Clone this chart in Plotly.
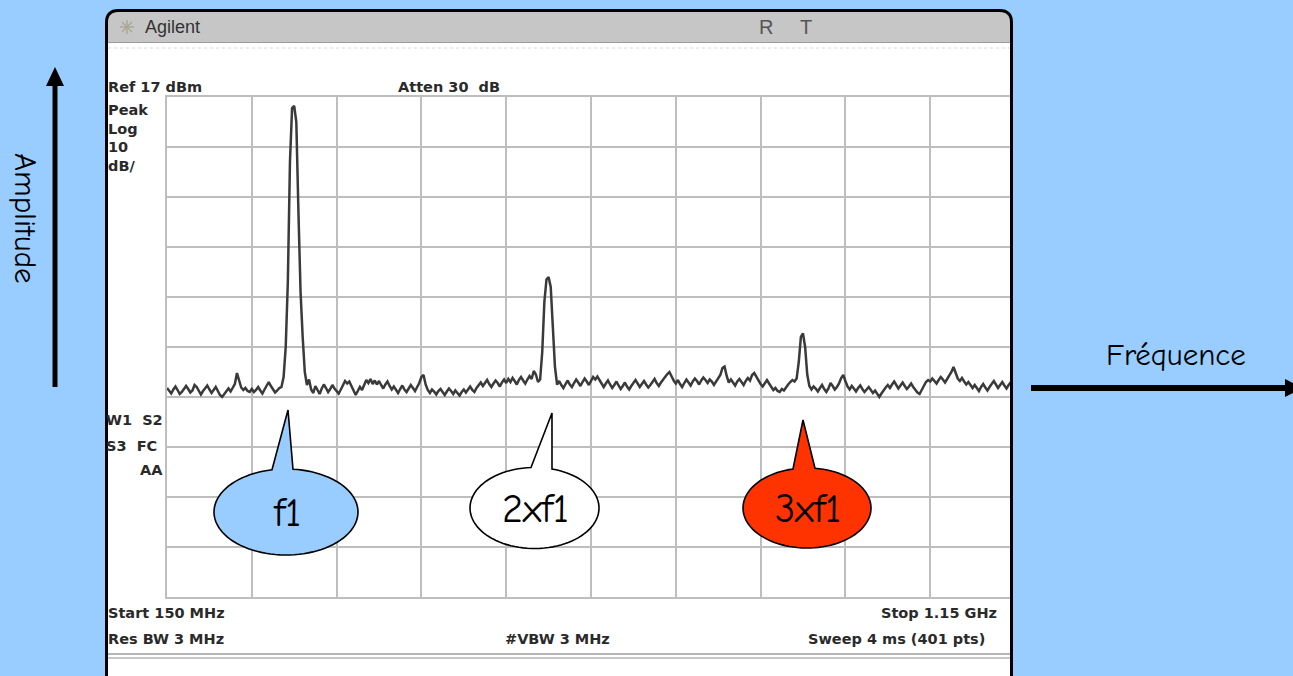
import math
import numpy as np
import plotly.graph_objects as go

W, H = 1293, 676

# Sweep settings shown on the analyzer screen
START_MHZ = 150.0
STOP_MHZ = 1150.0
N_PTS = 401
REF_DBM = 17
DB_PER_DIV = 10

# Trace levels (dBm), one per sweep point, 2.5 MHz apart
level_dbm = [
    -41.2, -41.8, -42.3, -41.5, -40.9, -41.6, -42.4, -42.0, -41.3, -40.8, -41.4, -42.1, -41.7, -40.6, -41.0, -41.9, -42.5, -41.8, -41.2, -40.7,
    -41.5, -42.2, -41.6, -41.0, -41.8, -42.6, -43.0, -42.4, -41.7, -41.3, -41.9, -41.2, -40.4, -38.2, -39.6, -41.1, -41.6, -41.2, -41.8, -42.0,
    -41.4, -42.0, -41.6, -41.0, -41.7, -42.3, -41.5, -40.6, -40.0, -40.8, -41.6, -42.1, -41.7, -41.2, -41.0, -39.0, -33.0, -20.0, 4.0, 14.8,
    15.2, 12.0, -6.0, -22.0, -31.0, -38.0, -40.6, -39.5, -41.5, -42.2, -40.8, -41.6, -42.4, -41.3, -40.5, -41.2, -42.0, -41.4, -40.6, -41.3,
    -41.8, -42.3, -41.5, -40.7, -39.8, -40.3, -39.9, -40.8, -41.9, -42.6, -41.8, -41.0, -41.6, -40.5, -39.6, -40.2, -39.4, -40.4, -39.7, -40.5,
    -39.8, -40.6, -41.3, -40.5, -39.9, -40.8, -41.5, -40.9, -41.6, -42.2, -41.4, -40.7, -41.5, -42.0, -41.3, -40.6, -41.2, -41.8, -41.0, -40.2,
    -39.0, -38.6, -40.5, -41.6, -42.2, -41.5, -41.9, -42.5, -41.8, -41.4, -42.0, -42.6, -41.9, -41.3, -41.8, -42.4, -41.7, -42.3, -42.7, -42.0,
    -41.5, -42.1, -41.4, -40.9, -41.6, -42.0, -41.2, -40.6, -40.1, -40.8, -40.2, -39.6, -40.4, -41.0, -40.3, -39.7, -40.2, -40.9, -40.1, -39.5,
    -40.2, -39.4, -40.0, -39.2, -39.8, -40.5, -39.6, -39.0, -39.7, -40.3, -39.5, -38.8, -39.4, -37.8, -38.5, -40.0, -39.5, -34.0, -24.0, -19.5,
    -19.0, -21.0, -29.0, -37.0, -40.5, -39.8, -40.6, -41.2, -40.4, -39.7, -40.5, -41.0, -40.2, -39.5, -40.1, -40.8, -40.0, -39.3, -39.9, -40.6,
    -39.8, -39.0, -39.5, -38.9, -39.6, -40.4, -41.0, -40.3, -39.7, -40.5, -41.2, -40.6, -39.9, -40.7, -41.4, -40.8, -40.1, -40.9, -41.5, -40.8,
    -40.2, -39.6, -40.3, -41.0, -40.4, -39.8, -40.5, -41.1, -40.6, -39.9, -39.4, -40.2, -40.8, -40.1, -39.5, -39.0, -38.4, -38.0, -38.9, -39.7,
    -40.3, -39.6, -40.4, -41.0, -40.2, -39.5, -40.1, -40.7, -39.9, -39.3, -39.8, -40.5, -39.7, -39.1, -39.6, -40.2, -39.5, -39.9, -40.6, -40.0,
    -39.4, -38.6, -37.2, -36.9, -38.8, -40.1, -39.5, -40.2, -40.7, -39.9, -39.4, -40.0, -40.6, -39.8, -39.2, -39.7, -38.6, -38.2, -38.9, -39.8,
    -40.4, -40.9, -40.2, -39.6, -40.3, -41.0, -41.6, -41.2, -41.8, -42.0, -41.4, -41.7, -41.0, -40.5, -40.0, -39.6, -39.9, -39.3, -36.0, -31.0,
    -30.3, -33.0, -38.5, -40.8, -41.5, -40.9, -41.3, -41.9, -41.2, -40.6, -41.4, -42.0, -41.3, -40.2, -40.8, -41.5, -41.0, -40.3, -39.2, -38.6,
    -39.8, -40.9, -41.5, -40.8, -41.3, -41.9, -41.2, -40.7, -41.4, -42.0, -41.5, -41.0, -41.6, -42.2, -41.7, -42.4, -43.0, -42.3, -41.6, -41.1,
    -40.6, -41.2, -40.5, -39.9, -40.6, -41.3, -40.7, -40.1, -40.8, -41.4, -40.9, -40.3, -41.0, -41.6, -42.1, -42.4, -41.5, -40.6, -40.0, -39.6,
    -39.9, -39.3, -39.8, -40.3, -39.6, -39.0, -39.5, -40.1, -39.4, -38.8, -38.0, -37.0, -38.2, -39.3, -39.8, -39.2, -39.9, -40.5, -40.0, -40.7,
    -41.2, -40.6, -41.3, -41.8, -41.0, -40.4, -41.1, -41.7, -41.0, -40.3, -39.8, -40.5, -41.2, -40.6, -40.0, -40.7, -41.3, -40.6, -40.1, -40.8,
    -40.4,
]
assert len(level_dbm) == N_PTS

freq_mhz = np.linspace(START_MHZ, STOP_MHZ, N_PTS)

# Screen annotation texts
header_left = "Ref 17 dBm"
header_mid = "Atten 30\u00a0 dB"
side_labels = ["Peak", "Log", "10", "dB/"]
status_labels = ["W1\u00a0 S2", "S3\u00a0 FC"]
status_right = "AA"
footer_start = "Start 150 MHz"
footer_stop = "Stop 1.15 GHz"
footer_rbw = "Res BW 3 MHz"
footer_vbw = "#VBW 3 MHz"
footer_sweep = "Sweep 4 ms (401 pts)"

# Harmonic callouts
bubble_labels = ["f1", "2xf1", "3xf1"]
bubble_fills = ["#99CCFF", "#FFFFFF", "#FF3300"]

axis_labels = ["Amplitude", "Fréquence"]


def px(x):
    return x / W


def py(y):
    return 1 - y / H


def pt(x, y):
    return f"{px(x):.5f},{py(y):.5f}"


def path_from(points, close=True):
    s = "M " + " L ".join(pt(x, y) for x, y in points)
    return s + (" Z" if close else "")


def rounded_top(xl, xr, yt, yb, r, close=True):
    # open-bottom outline with rounded upper corners
    s = (f"M {pt(xl, yb)} L {pt(xl, yt + r)} Q {pt(xl, yt)} {pt(xl + r, yt)} "
         f"L {pt(xr - r, yt)} Q {pt(xr, yt)} {pt(xr, yt + r)} L {pt(xr, yb)}")
    return s + (" Z" if close else "")


def bubble_points(cx, cy, rx, ry, base_l, base_r, tip, n=90):
    # ellipse outline merged with a triangular pointer on its upper edge
    def ang(xb):
        c = max(-1.0, min(1.0, (xb - cx) / rx))
        return math.acos(c)
    t_left = ang(base_l)
    t_right = ang(base_r) + 2 * math.pi
    pts = [(base_r, cy - ry * math.sin(ang(base_r))), tip,
           (base_l, cy - ry * math.sin(t_left))]
    for k in range(1, n):
        t = t_left + (t_right - t_left) * k / n
        pts.append((cx + rx * math.cos(t), cy - ry * math.sin(t)))
    return pts


X0, X1 = 167, 1015      # grid left / right in pixels
Y0, Y1 = 97, 597        # grid top / bottom in pixels

fig = go.Figure()
fig.add_trace(go.Scatter(
    x=freq_mhz, y=level_dbm, mode="lines",
    line=dict(color="#3a3a3a", width=2.5),
    hoverinfo="skip", showlegend=False,
))

grid = dict(showgrid=True, gridcolor="#BEBEBE", gridwidth=2,
            showline=True, linecolor="#BEBEBE", linewidth=2, mirror=True,
            zeroline=False, showticklabels=False, ticks="", fixedrange=True)
fig.update_xaxes(range=[START_MHZ, STOP_MHZ], tick0=START_MHZ, dtick=100,
                 domain=[px(X0), px(X1)], **grid)
fig.update_yaxes(range=[REF_DBM - 10 * DB_PER_DIV, REF_DBM], tick0=REF_DBM,
                 dtick=DB_PER_DIV, domain=[py(Y1), py(Y0)], **grid)

shapes = []
# instrument panel (white) and title bar
shapes.append(dict(type="path", xref="paper", yref="paper", layer="below",
                   path=rounded_top(106, 1012, 10, 678, 12),
                   fillcolor="#FFFFFF", line=dict(width=0)))
shapes.append(dict(type="path", xref="paper", yref="paper", layer="below",
                   path=rounded_top(108, 1010, 12, 42, 10),
                   fillcolor="#C6C6C6", line=dict(width=0)))
shapes.append(dict(type="line", xref="paper", yref="paper", layer="below",
                   x0=px(108), x1=px(1010), y0=py(42.5), y1=py(42.5),
                   line=dict(color="#9A9A9A", width=1.2)))
shapes.append(dict(type="line", xref="paper", yref="paper", layer="below",
                   x0=px(108), x1=px(1010), y0=py(48), y1=py(48),
                   line=dict(color="#DADADA", width=1, dash="dot")))
for yy, col in [(654, "#9C9C9C"), (658, "#B4B4B4")]:
    shapes.append(dict(type="line", xref="paper", yref="paper", layer="below",
                       x0=px(108), x1=px(1010), y0=py(yy), y1=py(yy),
                       line=dict(color=col, width=1.6)))
# Agilent star logo
for a in range(4):
    t = a * math.pi / 4
    shapes.append(dict(type="line", xref="paper", yref="paper", layer="below",
                       x0=px(127 - 7 * math.cos(t)), x1=px(127 + 7 * math.cos(t)),
                       y0=py(27 - 7 * math.sin(t)), y1=py(27 + 7 * math.sin(t)),
                       line=dict(color="#A8A890", width=1.4)))

# background strip past the instrument's right edge, then the frame outline
shapes.append(dict(type="rect", xref="paper", yref="paper", layer="above",
                   x0=px(1013), x1=px(1028), y0=py(676), y1=py(0),
                   fillcolor="#99CCFF", line=dict(width=0)))
shapes.append(dict(type="path", xref="paper", yref="paper", layer="above",
                   path=rounded_top(106.5, 1011.5, 10.5, 680, 12, close=False),
                   line=dict(color="#000000", width=3)))

# callout bubbles
bubble_geo = [
    dict(cx=286, cy=512, rx=72, ry=43, bl=272, br=293, tip=(288, 410)),
    dict(cx=534.5, cy=508, rx=64.5, ry=40.5, bl=531, br=552, tip=(552, 413)),
    dict(cx=807, cy=508, rx=64, ry=40, bl=793, br=815, tip=(803, 420)),
]
for g, fill in zip(bubble_geo, bubble_fills):
    pts = bubble_points(g["cx"], g["cy"], g["rx"], g["ry"], g["bl"], g["br"], g["tip"])
    shapes.append(dict(type="path", xref="paper", yref="paper", layer="above",
                       path=path_from(pts), fillcolor=fill,
                       line=dict(color="#000000", width=1.6)))

# axis arrows
shapes.append(dict(type="line", xref="paper", yref="paper", layer="above",
                   x0=px(55), x1=px(55), y0=py(387), y1=py(82),
                   line=dict(color="#000000", width=5)))
shapes.append(dict(type="path", xref="paper", yref="paper", layer="above",
                   path=path_from([(46, 86), (55, 67), (64, 86)]),
                   fillcolor="#000000", line=dict(width=0)))
shapes.append(dict(type="line", xref="paper", yref="paper", layer="above",
                   x0=px(1031), x1=px(1288), y0=py(388), y1=py(388),
                   line=dict(color="#000000", width=6)))
shapes.append(dict(type="path", xref="paper", yref="paper", layer="above",
                   path=path_from([(1285, 379), (1303, 388), (1285, 397)]),
                   fillcolor="#000000", line=dict(width=0)))

annotations = []
screen_font = dict(family="DejaVu Sans, Verdana, sans-serif", size=14.5, color="#2a2a2a")


def label(text, x, y, anchor="left", font=None, **kw):
    annotations.append(dict(text=text, x=px(x), y=py(y), xref="paper", yref="paper",
                            xanchor=anchor, yanchor="middle", showarrow=False,
                            font=font or screen_font, **kw))


label("<b>" + header_left + "</b>", 106, 87)
label("<b>" + header_mid + "</b>", 396, 87)
for i, t in enumerate(side_labels):
    label("<b>" + t + "</b>", 106, 110 + i * 18.5)
label("<b>" + status_labels[0] + "</b>", 104, 420)
label("<b>" + status_labels[1] + "</b>", 104, 446)
label("<b>" + status_right + "</b>", 165, 470, anchor="right")
label("<b>" + footer_start + "</b>", 106, 613)
label("<b>" + footer_stop + "</b>", 999, 613, anchor="right")
label("<b>" + footer_rbw + "</b>", 106, 639)
label("<b>" + footer_vbw + "</b>", 557, 639, anchor="center")
label("<b>" + footer_sweep + "</b>", 987, 639, anchor="right")

title_font = dict(family="Liberation Sans, Arial, sans-serif", size=18, color="#333333")
label("Agilent", 143, 27, font=title_font)
rt_font = dict(family="Liberation Sans, Arial, sans-serif", size=20, color="#555555")
label("R", 766, 27, anchor="center", font=rt_font)
label("T", 806, 27, anchor="center", font=rt_font)

comic = "Comic Sans MS, Comic Neue, DejaVu Sans, sans-serif"
bubble_font = dict(family=comic, size=40, color="#000000")
for g, t in zip(bubble_geo, bubble_labels):
    label(t, g["cx"] + 1, g["cy"] + 1, anchor="center", font=bubble_font)

axis_font = dict(family=comic, size=31, color="#000000")
label(axis_labels[0], 25, 218, anchor="center", font=axis_font, textangle=90)
label(axis_labels[1], 1176, 355, anchor="center", font=axis_font)

fig.update_layout(
    width=W, height=H,
    margin=dict(l=0, r=0, t=0, b=0),
    paper_bgcolor="#99CCFF",
    plot_bgcolor="rgba(0,0,0,0)",
    showlegend=False,
    shapes=shapes,
    annotations=annotations,
)

fig.write_html("out.html")
